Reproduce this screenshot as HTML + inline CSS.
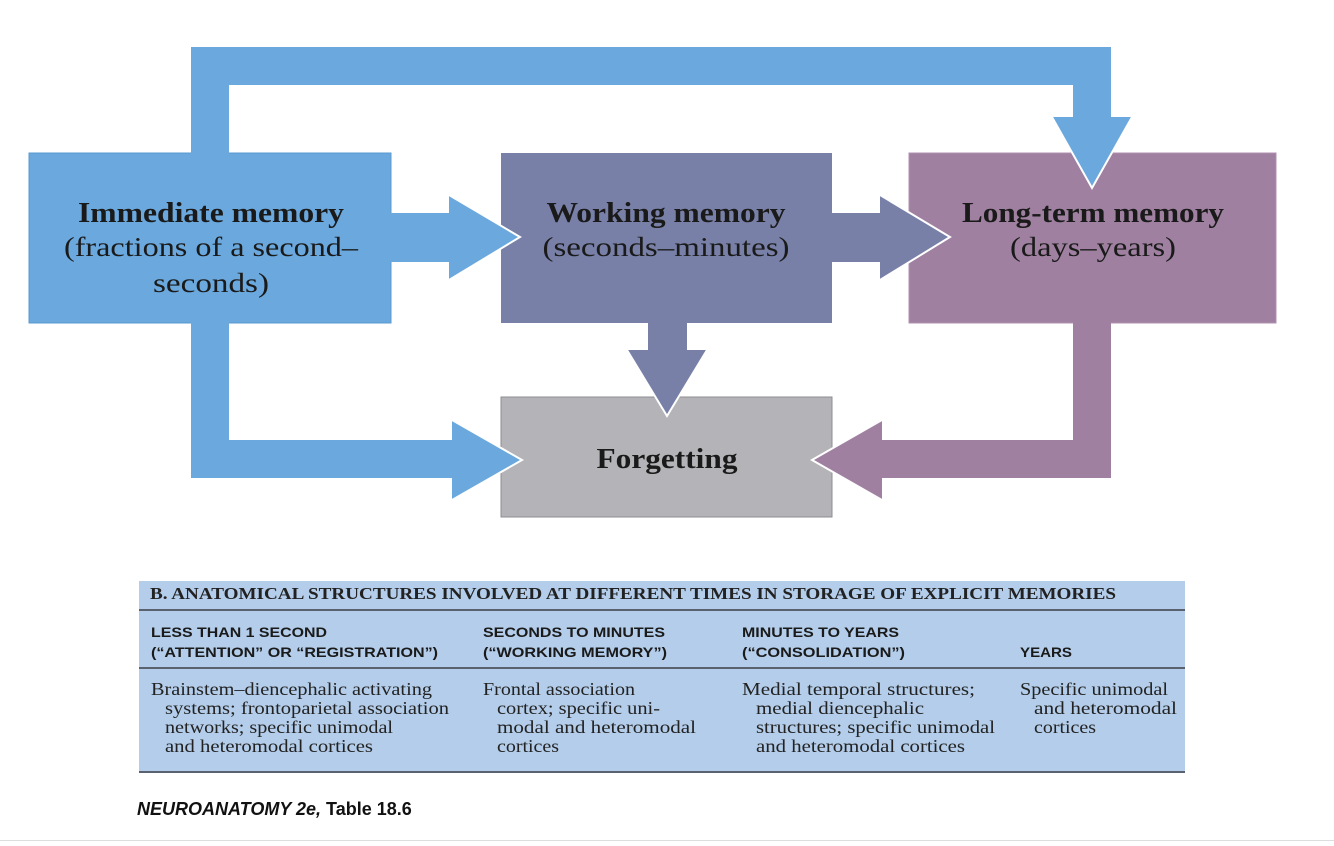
<!DOCTYPE html>
<html><head><meta charset="utf-8"><style>
html,body{margin:0;padding:0;background:#fff;width:1334px;height:846px;overflow:hidden}
</style></head><body>
<svg width="1334" height="846" viewBox="0 0 1334 846" xmlns="http://www.w3.org/2000/svg">
<rect x="29" y="153" width="362" height="170" fill="#6aa8dd" stroke="#5a9ad2"/>
<rect x="501" y="153" width="331" height="170" fill="#7880a8"/>
<rect x="909" y="153" width="367" height="170" fill="#9f80a0" stroke="#b090b0"/>
<rect x="501" y="397" width="331" height="120" fill="#b4b4b8" stroke="#8e8e92"/>
<path d="M191,154 L191,47 L1111,47 L1111,117 L1132,117 L1092,188 L1052,117 L1073,117 L1073,85 L229,85 L229,154 Z" fill="#6aa8dd"/>
<path d="M1052,117 L1092,188 L1132,117" fill="none" stroke="#fff" stroke-width="2"/>
<path d="M191,322 L191,478 L452,478 L452,500 L522,460 L452,420 L452,440 L229,440 L229,322 Z" fill="#6aa8dd"/>
<path d="M452,420 L522,460 L452,500" fill="none" stroke="#fff" stroke-width="2"/>
<path d="M1111,322 L1111,478 L882,478 L882,500 L812,460 L882,420 L882,440 L1073,440 L1073,322 Z" fill="#9f80a0"/>
<path d="M882,420 L812,460 L882,500" fill="none" stroke="#fff" stroke-width="2"/>
<path d="M390,213 L449,213 L449,195 L520,237 L449,280 L449,262 L390,262 Z" fill="#6aa8dd"/>
<path d="M449,195 L520,237 L449,280" fill="none" stroke="#fff" stroke-width="2"/>
<path d="M831,213 L880,213 L880,195 L950,237 L880,280 L880,262 L831,262 Z" fill="#7880a8"/>
<path d="M880,195 L950,237 L880,280" fill="none" stroke="#fff" stroke-width="2"/>
<path d="M648,322 L648,350 L627,350 L667,416 L707,350 L687,350 L687,322 Z" fill="#7880a8"/>
<path d="M627,350 L667,416 L707,350" fill="none" stroke="#fff" stroke-width="2"/>
<g font-family="Liberation Serif, serif" fill="#1a1a1a" text-anchor="middle">
<text x="211" y="222" font-size="28" font-weight="bold" textLength="266" lengthAdjust="spacingAndGlyphs">Immediate memory</text>
<text x="211" y="256" font-size="27" textLength="294" lengthAdjust="spacingAndGlyphs">(fractions of a second–</text>
<text x="211" y="292" font-size="27" textLength="116" lengthAdjust="spacingAndGlyphs">seconds)</text>
<text x="666" y="222" font-size="28" font-weight="bold" textLength="239" lengthAdjust="spacingAndGlyphs">Working memory</text>
<text x="666" y="256" font-size="27" textLength="247" lengthAdjust="spacingAndGlyphs">(seconds–minutes)</text>
<text x="1093" y="222" font-size="28" font-weight="bold" textLength="262" lengthAdjust="spacingAndGlyphs">Long-term memory</text>
<text x="1093" y="256" font-size="27" textLength="166" lengthAdjust="spacingAndGlyphs">(days–years)</text>
<text x="667" y="468" font-size="28" font-weight="bold" textLength="141" lengthAdjust="spacingAndGlyphs">Forgetting</text>
</g>
<rect x="139" y="581" width="1046" height="192" fill="#b3cdea"/>
<rect x="139" y="609" width="1046" height="2" fill="#5a6270"/>
<rect x="139" y="667" width="1046" height="2" fill="#5a6270"/>
<rect x="139" y="771" width="1046" height="2" fill="#5a6270"/>
<text x="150" y="599" font-family="Liberation Serif, serif" font-size="17" font-weight="bold" fill="#222" textLength="966" lengthAdjust="spacingAndGlyphs">B. ANATOMICAL STRUCTURES INVOLVED AT DIFFERENT TIMES IN STORAGE OF EXPLICIT MEMORIES</text>
<g font-family="Liberation Sans, sans-serif" font-size="14" font-weight="bold" fill="#1a1a1a">
<text x="151" y="637" textLength="176" lengthAdjust="spacingAndGlyphs">LESS THAN 1 SECOND</text>
<text x="151" y="657" textLength="287" lengthAdjust="spacingAndGlyphs">(“ATTENTION” OR “REGISTRATION”)</text>
<text x="483" y="637" textLength="182" lengthAdjust="spacingAndGlyphs">SECONDS TO MINUTES</text>
<text x="483" y="657" textLength="184" lengthAdjust="spacingAndGlyphs">(“WORKING MEMORY”)</text>
<text x="742" y="637" textLength="157" lengthAdjust="spacingAndGlyphs">MINUTES TO YEARS</text>
<text x="742" y="657" textLength="163" lengthAdjust="spacingAndGlyphs">(“CONSOLIDATION”)</text>
<text x="1020" y="657" textLength="52" lengthAdjust="spacingAndGlyphs">YEARS</text>
</g>
<g font-family="Liberation Serif, serif" font-size="18" fill="#222">
<text x="151" y="695" textLength="281" lengthAdjust="spacingAndGlyphs">Brainstem–diencephalic activating</text>
<text x="165" y="714" textLength="284" lengthAdjust="spacingAndGlyphs">systems; frontoparietal association</text>
<text x="165" y="733" textLength="228" lengthAdjust="spacingAndGlyphs">networks; specific unimodal</text>
<text x="165" y="752" textLength="208" lengthAdjust="spacingAndGlyphs">and heteromodal cortices</text>
<text x="483" y="695" textLength="152" lengthAdjust="spacingAndGlyphs">Frontal association</text>
<text x="497" y="714" textLength="163" lengthAdjust="spacingAndGlyphs">cortex; specific uni-</text>
<text x="497" y="733" textLength="199" lengthAdjust="spacingAndGlyphs">modal and heteromodal</text>
<text x="497" y="752" textLength="62" lengthAdjust="spacingAndGlyphs">cortices</text>
<text x="742" y="695" textLength="233" lengthAdjust="spacingAndGlyphs">Medial temporal structures;</text>
<text x="756" y="714" textLength="168" lengthAdjust="spacingAndGlyphs">medial diencephalic</text>
<text x="756" y="733" textLength="239" lengthAdjust="spacingAndGlyphs">structures; specific unimodal</text>
<text x="756" y="752" textLength="209" lengthAdjust="spacingAndGlyphs">and heteromodal cortices</text>
<text x="1020" y="695" textLength="148" lengthAdjust="spacingAndGlyphs">Specific unimodal</text>
<text x="1034" y="714" textLength="143" lengthAdjust="spacingAndGlyphs">and heteromodal</text>
<text x="1034" y="733" textLength="62" lengthAdjust="spacingAndGlyphs">cortices</text>
</g>
<text x="137" y="815" font-family="Liberation Sans, sans-serif" font-size="18" font-weight="bold" fill="#111"><tspan font-style="italic">NEUROANATOMY 2e,</tspan> Table 18.6</text>
<rect x="0" y="840" width="1334" height="1" fill="#ddd"/>
</svg>
</body></html>
